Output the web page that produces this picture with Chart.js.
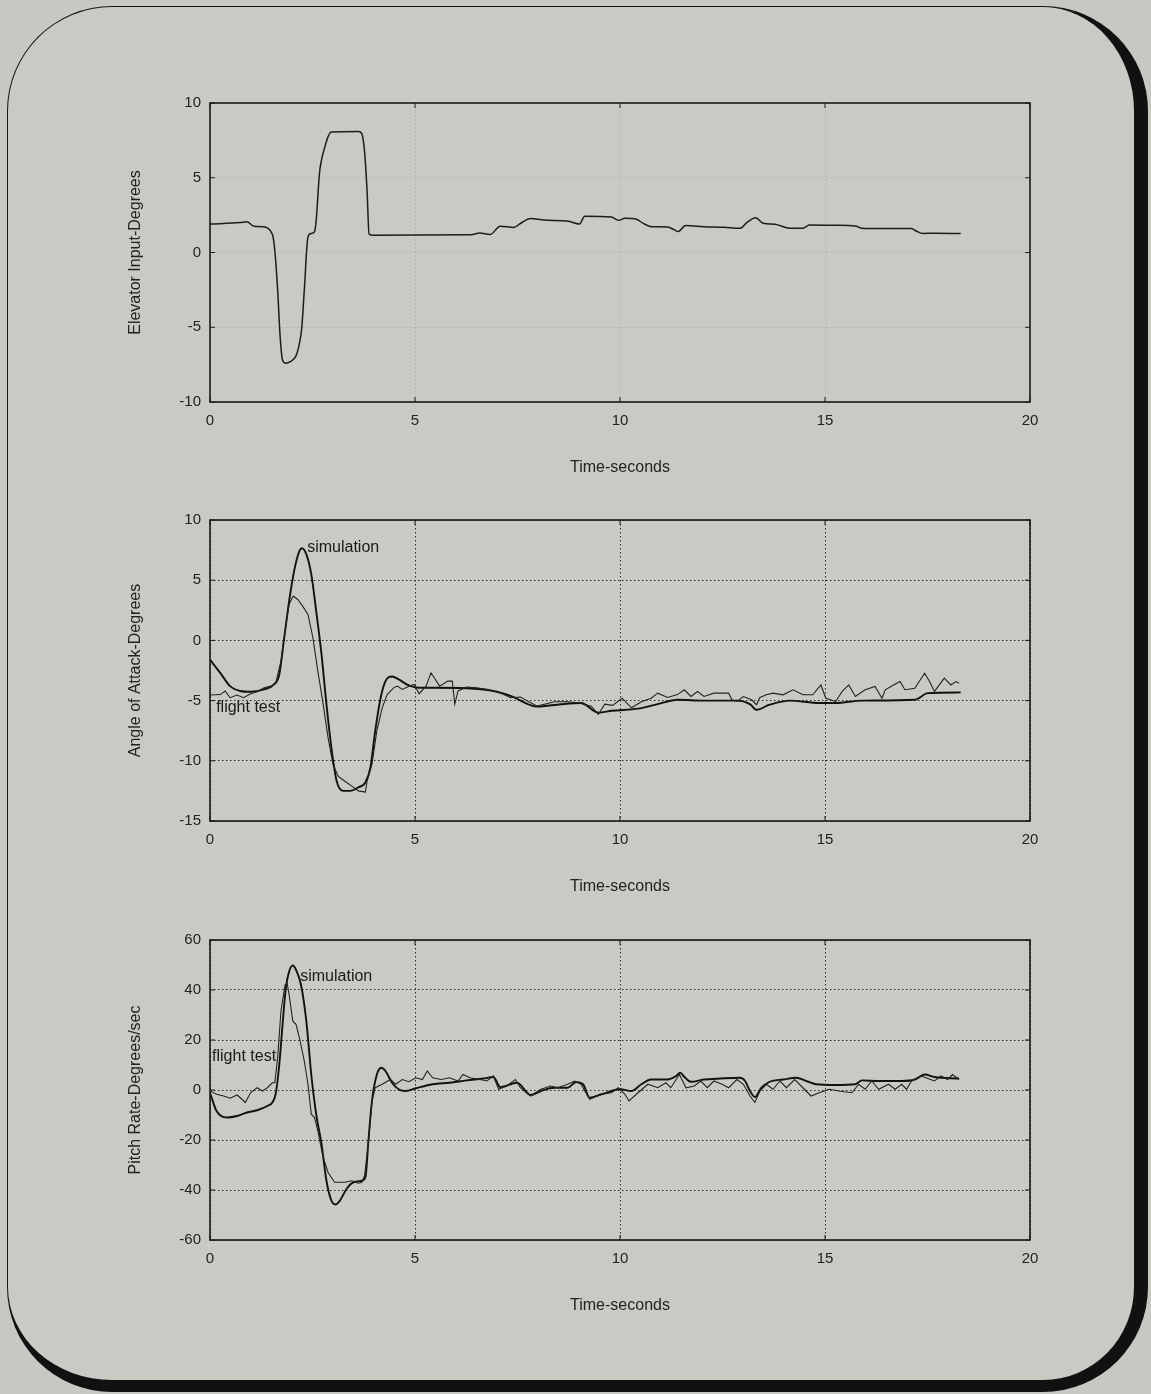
<!DOCTYPE html>
<html>
<head>
<meta charset="utf-8">
<script src="https://cdn.jsdelivr.net/npm/chart.js@4.4.1/dist/chart.umd.min.js"></script>
<style>
  html, body { margin: 0; padding: 0; background: #c7c8c2; }
  body { width: 1151px; height: 1394px; position: relative; overflow: hidden; }
  #frame {
    position: absolute; left: 7px; top: 6px;
    width: 1126px; height: 1373px;
    border-left: 1.5px solid #151515; border-top: 1.5px solid #151515;
    border-right: 14px solid #111; border-bottom: 12px solid #111;
    border-radius: 105px;
    background: #c9cac4;
  }
  canvas { position: absolute; left: 0; }
</style>
</head>
<body>
<div id="frame"></div>
<canvas id="c1" width="1151" height="397" style="top:80px"></canvas>
<canvas id="c2" width="1151" height="399" style="top:497px"></canvas>
<canvas id="c3" width="1151" height="398" style="top:917px"></canvas>
<script>
// ---------------- DATA (time in seconds, value) ----------------
const timeTicks = [0, 5, 10, 15, 20];

const elevatorInput = [
  [0,1.9],[0.74,2.0],[0.9,2.05],[1.07,1.76],[1.28,1.72],[1.52,1.23],[1.58,0.15],[1.65,-2.5],
  [1.71,-5.6],[1.77,-7.2],[1.85,-7.4],[1.96,-7.3],[2.1,-6.9],[2.18,-6.1],[2.24,-5.0],[2.3,-2.5],
  [2.39,1.05],[2.47,1.27],[2.55,1.4],[2.59,2.17],[2.67,5.3],[2.72,6.2],[2.78,6.85],[2.88,7.75],
  [2.96,8.06],[3.62,8.1],[3.7,7.97],[3.77,6.74],[3.83,4.17],[3.88,1.23],[3.95,1.16],[6.34,1.18],
  [6.58,1.3],[6.83,1.2],[7.08,1.76],[7.41,1.67],[7.57,1.94],[7.82,2.28],[8.15,2.17],[8.72,2.1],
  [9.01,1.9],[9.14,2.43],[9.79,2.37],[9.96,2.15],[10.12,2.29],[10.4,2.22],[10.56,1.96],[10.76,1.73],
  [11.16,1.71],[11.33,1.51],[11.42,1.4],[11.6,1.8],[12.05,1.73],[12.53,1.69],[12.93,1.62],[13.09,2.0],
  [13.31,2.33],[13.49,1.96],[13.78,1.89],[14.14,1.62],[14.46,1.62],[14.62,1.84],[15.26,1.82],[15.74,1.78],
  [15.9,1.62],[16.22,1.6],[17.1,1.6],[17.22,1.44],[17.39,1.27],[17.67,1.29],[18.31,1.27]
];

const aoaSimulation = [
  [0,-1.6],[0.25,-2.7],[0.49,-3.8],[0.74,-4.2],[0.99,-4.27],[1.32,-4.07],[1.56,-3.66],[1.69,-2.83],
  [1.81,0.2],[1.93,3.27],[2.06,5.9],[2.18,7.42],[2.24,7.65],[2.35,7.15],[2.47,5.5],[2.59,2.44],
  [2.72,-1.16],[2.84,-5.3],[2.96,-8.9],[3.09,-11.7],[3.25,-12.5],[3.42,-12.5],[3.62,-12.2],[3.79,-11.8],
  [3.91,-10.6],[4.03,-7.5],[4.16,-4.8],[4.28,-3.38],[4.44,-3.0],[4.6,-3.24],[4.85,-3.74],[5.1,-3.93],
  [5.43,-3.93],[6.26,-3.97],[6.91,-4.2],[7.33,-4.6],[7.98,-5.5],[8.56,-5.3],[9.05,-5.2],[9.47,-6.0],
  [9.8,-5.84],[10.44,-5.67],[10.92,-5.29],[11.4,-4.93],[12.05,-5.0],[12.85,-5.0],[13.17,-5.29],[13.33,-5.76],
  [13.65,-5.34],[14.14,-5.0],[14.86,-5.2],[15.26,-5.2],[15.9,-5.0],[17.19,-4.93],[17.51,-4.38],[18.31,-4.32]
];

const aoaFlightTest = [
  [0,-4.54],[0.25,-4.5],[0.37,-4.2],[0.49,-4.76],[0.66,-4.54],[0.82,-4.76],[0.99,-4.43],[1.15,-4.27],
  [1.32,-3.93],[1.48,-3.8],[1.6,-3.6],[1.73,-1.72],[1.83,0.78],[1.93,3.0],[2.03,3.68],[2.14,3.4],
  [2.26,2.85],[2.39,2.16],[2.51,0.22],[2.63,-2.55],[2.76,-5.3],[2.88,-8.1],[3.0,-10.3],[3.13,-11.3],
  [3.29,-11.7],[3.46,-12.1],[3.62,-12.5],[3.79,-12.6],[3.83,-11.7],[3.95,-10.3],[4.07,-7.5],[4.2,-5.6],
  [4.32,-4.5],[4.49,-3.9],[4.57,-3.8],[4.69,-4.07],[4.85,-3.8],[4.98,-3.66],[5.1,-4.43],[5.27,-3.8],
  [5.39,-2.7],[5.47,-3.1],[5.6,-3.8],[5.8,-3.38],[5.91,-3.38],[5.97,-5.3],[6.05,-4.2],[6.26,-3.88],
  [6.5,-3.93],[6.75,-4.07],[7.08,-4.35],[7.33,-4.76],[7.57,-4.7],[7.98,-5.46],[8.4,-5.1],[8.72,-5.1],
  [8.97,-5.18],[9.3,-5.46],[9.47,-6.15],[9.63,-5.3],[9.82,-5.4],[10.05,-4.8],[10.28,-5.6],[10.52,-5.1],
  [10.76,-4.8],[10.92,-4.38],[11.16,-4.74],[11.4,-4.5],[11.57,-4.1],[11.73,-4.66],[11.89,-4.24],[12.05,-4.66],
  [12.29,-4.38],[12.65,-4.38],[12.73,-4.93],[12.85,-5.07],[13.01,-4.66],[13.21,-4.93],[13.33,-5.34],[13.41,-4.74],
  [13.57,-4.52],[13.73,-4.38],[13.98,-4.52],[14.22,-4.1],[14.46,-4.52],[14.7,-4.52],[14.9,-3.7],[15.02,-4.8],
  [15.26,-5.07],[15.42,-4.24],[15.58,-3.7],[15.74,-4.66],[15.98,-4.1],[16.22,-3.83],[16.39,-4.8],[16.47,-4.1],
  [16.67,-3.7],[16.83,-3.42],[16.95,-4.1],[17.19,-3.97],[17.43,-2.73],[17.55,-3.42],[17.67,-4.24],[17.91,-3.14],
  [18.07,-3.7],[18.19,-3.42],[18.27,-3.55]
];

const pitchSimulation = [
  [0,-1.1],[0.16,-8.4],[0.41,-11],[0.66,-10.4],[0.9,-9.0],[1.15,-8.1],[1.4,-6.4],[1.52,-5.0],
  [1.6,-1.7],[1.69,10.2],[1.77,26.2],[1.85,40.8],[1.93,47.4],[2.02,49.8],[2.1,48],[2.22,42],
  [2.35,27.5],[2.47,6.2],[2.59,-9.7],[2.72,-21.6],[2.84,-36.3],[2.96,-44.2],[3.06,-45.8],[3.17,-44.2],
  [3.33,-39.6],[3.5,-36.9],[3.7,-36.3],[3.79,-34.9],[3.87,-19],[3.95,-4.4],[4.07,6.2],[4.18,8.9],
  [4.28,7.6],[4.44,2.9],[4.6,0.3],[4.77,-0.4],[5.02,0.7],[5.43,2.3],[5.84,2.9],[6.26,3.85],
  [6.67,4.6],[6.91,5.2],[7.08,1.2],[7.49,2.9],[7.82,-2.0],[8.07,-0.4],[8.4,0.9],[8.72,0.9],
  [8.93,3.2],[9.1,2.3],[9.26,-3.1],[9.55,-1.7],[10.0,0.3],[10.28,-0.4],[10.52,2.3],[10.76,4.2],
  [11.16,4.2],[11.37,5.6],[11.47,6.9],[11.57,5.2],[11.73,3.3],[12.05,4.2],[12.45,4.6],[12.93,4.9],
  [13.05,3.6],[13.17,-0.4],[13.29,-2.8],[13.45,0.9],[13.65,3.3],[13.98,4.2],[14.3,4.9],[14.54,3.6],
  [14.78,2.3],[15.26,2.0],[15.74,2.3],[15.9,3.85],[16.31,3.6],[16.87,3.6],[17.19,4.2],[17.43,6.2],
  [17.67,5.2],[18.27,4.6]
];

const pitchFlightTest = [
  [0,-0.4],[0.16,-1.7],[0.33,-2.4],[0.49,-3.3],[0.66,-2.0],[0.78,-3.7],[0.86,-5.0],[0.99,-1.1],
  [1.15,0.9],[1.28,-0.4],[1.4,0.9],[1.52,2.9],[1.58,2.9],[1.65,12.9],[1.73,31.5],[1.83,42],
  [1.88,42.8],[1.93,38.1],[2.02,27.5],[2.1,26.2],[2.18,20.9],[2.3,11.6],[2.39,2.3],[2.47,-9.7],
  [2.55,-11],[2.63,-16.3],[2.76,-27],[2.88,-33],[3.04,-36.9],[3.29,-36.9],[3.46,-36.3],[3.62,-37.3],
  [3.7,-36.9],[3.77,-34.3],[3.87,-20.3],[3.95,-4.4],[4.03,0.9],[4.2,2.3],[4.4,4.2],[4.53,2.3],
  [4.69,4.2],[4.85,3.3],[5.02,4.9],[5.18,4.2],[5.3,7.6],[5.43,4.9],[5.64,4.2],[5.84,4.9],
  [6.05,3.6],[6.17,6.2],[6.34,4.9],[6.58,4.2],[6.75,3.6],[6.91,5.6],[7.04,0.3],[7.24,1.6],
  [7.45,4.2],[7.57,0.9],[7.82,-2.4],[8.07,0.3],[8.31,1.6],[8.48,0.9],[8.72,2.3],[8.89,3.6],
  [9.05,2.3],[9.26,-3.7],[9.55,-1.7],[9.79,-1.1],[9.96,0.9],[10.12,-1.7],[10.22,-4.4],[10.44,-1.1],
  [10.68,2.3],[10.92,0.9],[11.12,2.9],[11.24,0.9],[11.45,6.2],[11.61,0.9],[11.81,1.6],[11.97,3.6],
  [12.13,0.9],[12.29,3.6],[12.49,2.3],[12.65,0.9],[12.85,4.2],[13.01,2.3],[13.17,-2.4],[13.29,-5.0],
  [13.41,-0.4],[13.57,2.3],[13.73,0.3],[13.9,3.6],[14.06,0.9],[14.26,4.2],[14.46,0.9],[14.66,-2.4],
  [14.86,-1.1],[15.1,0.3],[15.34,-0.4],[15.66,-1.1],[15.82,2.3],[15.98,0.3],[16.14,3.6],[16.31,0.3],
  [16.55,2.3],[16.71,0.3],[16.87,2.3],[16.99,0.3],[17.11,3.6],[17.35,5.6],[17.51,4.6],[17.67,3.6],
  [17.83,5.6],[17.99,4.2],[18.11,6.2],[18.27,4.2]
];

// ---------------- RENDERING ----------------
Chart.defaults.font.family = "'Liberation Sans', Arial, Helvetica, sans-serif";
Chart.defaults.color = '#222';

const toXY = arr => arr.map(p => ({x: p[0], y: p[1]}));

const frameBox = {
  id: 'frameBox',
  afterDraw(chart, args, opts) {
    const {ctx, chartArea: a, scales} = chart;
    ctx.save();
    ctx.strokeStyle = '#1a1a1a';
    ctx.lineWidth = 1.6;
    ctx.strokeRect(a.left, a.top, a.right - a.left, a.bottom - a.top);
    ctx.lineWidth = 1;
    const tl = 5;
    ctx.beginPath();
    scales.x.ticks.forEach(t => {
      const px = scales.x.getPixelForValue(t.value);
      ctx.moveTo(px, a.bottom); ctx.lineTo(px, a.bottom - tl);
      ctx.moveTo(px, a.top); ctx.lineTo(px, a.top + tl);
    });
    scales.y.ticks.forEach(t => {
      const py = scales.y.getPixelForValue(t.value);
      ctx.moveTo(a.left, py); ctx.lineTo(a.left + tl, py);
      ctx.moveTo(a.right, py); ctx.lineTo(a.right - tl, py);
    });
    ctx.stroke();
    (opts.labels || []).forEach(l => {
      ctx.font = "16px 'Liberation Sans', Arial, sans-serif";
      ctx.fillStyle = '#1a1a1a';
      ctx.textBaseline = 'middle';
      ctx.textAlign = 'left';
      ctx.fillText(l.text, scales.x.getPixelForValue(l.x), scales.y.getPixelForValue(l.y));
    });
    ctx.restore();
  }
};

function makeChart(id, datasets, yMin, yMax, yStep, yTitle, gridColor, labels) {
  return new Chart(document.getElementById(id), {
    type: 'line',
    data: { datasets },
    options: {
      responsive: false,
      animation: false,
      devicePixelRatio: 1,
      layout: { padding: { top: 23, right: 121, left: 0, bottom: 0 } },
      plugins: { legend: { display: false }, tooltip: { enabled: false }, frameBox: { labels } },
      elements: { point: { radius: 0 } },
      scales: {
        x: {
          type: 'linear', min: 0, max: 20,
          afterBuildTicks: s => { s.ticks = timeTicks.map(v => ({value: v})); },
          ticks: { padding: 10, font: { size: 15 }, color: '#222' },
          grid: { color: gridColor, lineWidth: 1, drawTicks: false },
          border: { display: false, dash: [1.5, 2.5] },
          title: { display: true, text: 'Time-seconds', font: { size: 16 }, padding: { top: 0, bottom: 0 }, color: '#222' },
          afterFit: s => { s.height = 75; }
        },
        y: {
          type: 'linear', min: yMin, max: yMax,
          ticks: { stepSize: yStep, padding: 9, font: { size: 15 }, color: '#222' },
          grid: { color: gridColor, lineWidth: 1, drawTicks: false },
          border: { display: false, dash: [1.5, 2.5] },
          title: { display: true, text: yTitle, font: { size: 16 }, padding: { top: 126, bottom: 0 }, color: '#222' },
          afterFit: s => { s.width = 210; }
        }
      }
    },
    plugins: [frameBox]
  });
}

const smooth = { cubicInterpolationMode: 'monotone', fill: false };

makeChart('c1', [
  Object.assign({ label: 'elevator', data: toXY(elevatorInput), borderColor: '#1c1c1c', borderWidth: 1.5 }, smooth)
], -10, 10, 5, 'Elevator Input-Degrees', 'rgba(40,40,40,0.16)', []);

makeChart('c2', [
  Object.assign({ label: 'flight test', data: toXY(aoaFlightTest), borderColor: '#222', borderWidth: 1.1, tension: 0 }, { fill: false }),
  Object.assign({ label: 'simulation', data: toXY(aoaSimulation), borderColor: '#111', borderWidth: 1.9 }, smooth)
], -15, 10, 5, 'Angle of Attack-Degrees', '#2a2a2a', [
  { text: 'simulation', x: 2.37, y: 7.67 },
  { text: 'flight test', x: 0.15, y: -5.6 }
]);

makeChart('c3', [
  Object.assign({ label: 'flight test', data: toXY(pitchFlightTest), borderColor: '#222', borderWidth: 1.1, tension: 0 }, { fill: false }),
  Object.assign({ label: 'simulation', data: toXY(pitchSimulation), borderColor: '#111', borderWidth: 1.9 }, smooth)
], -60, 60, 20, 'Pitch Rate-Degrees/sec', '#2a2a2a', [
  { text: 'simulation', x: 2.2, y: 45.2 },
  { text: 'flight test', x: 0.05, y: 13.2 }
]);
</script>
</body>
</html>
